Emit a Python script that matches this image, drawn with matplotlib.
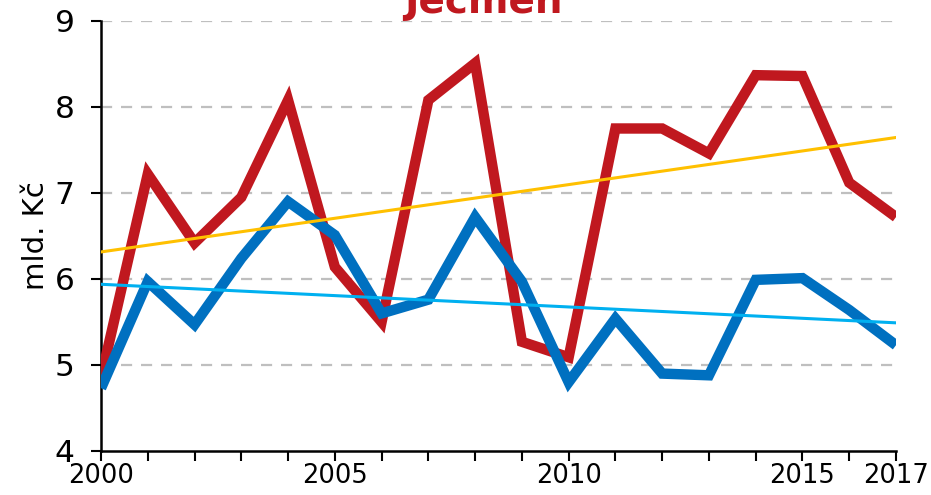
import matplotlib
matplotlib.use("Agg")
import matplotlib.pyplot as plt
import numpy as np

years = np.arange(2000, 2018)
red_vals = [4.85, 7.22, 6.42, 6.95, 8.08, 6.14, 5.50, 8.08, 8.51, 5.27,
            5.09, 7.75, 7.75, 7.46, 8.37, 8.36, 7.12, 6.72]
blue_vals = [4.73, 5.97, 5.47, 6.24, 6.90, 6.51, 5.60, 5.76, 6.72, 5.97,
             4.80, 5.54, 4.90, 4.88, 5.99, 6.01, 5.64, 5.23]
xtick_labels = [2000, 2005, 2010, 2015, 2017]
title = "Ječmen"
ylabel = "mld. Kč"

fig = plt.figure(figsize=(9.31, 4.95), dpi=100)
ax = fig.add_axes([0.1085, 0.0889, 0.8539, 0.8687])

# grid
for v in [5, 6, 7, 8, 9]:
    ax.axhline(v, color="#BFBFBF", lw=1.6, dashes=(5, 4), zorder=0)

# trend lines (linear fit like excel)
rf = np.polyfit(years, red_vals, 1)
bf = np.polyfit(years, blue_vals, 1)

ax.plot(years, red_vals, color="#C0181F", lw=7.5, solid_joinstyle="miter", solid_capstyle="butt", zorder=3)
ax.plot(years, blue_vals, color="#0070C0", lw=7.5, solid_joinstyle="miter", solid_capstyle="butt", zorder=3)
ax.plot(years, np.polyval(rf, years), color="#FFC000", lw=2.2, zorder=4)
ax.plot(years, np.polyval(bf, years), color="#00B0F0", lw=2.2, zorder=4)

ax.set_xlim(2000, 2017)
ax.set_ylim(4, 9)
ax.set_yticks([4, 5, 6, 7, 8, 9])
ax.set_xticks(years, minor=True)
ax.set_xticks(xtick_labels)
ax.tick_params(axis="x", which="both", length=7, width=1.5, labelsize=18.5, pad=2)
ax.tick_params(axis="y", length=7, width=1.5, labelsize=22.5, pad=12)

for s in ["top", "right"]:
    ax.spines[s].set_visible(False)
for s in ["left", "bottom"]:
    ax.spines[s].set_linewidth(1.8)

ax.set_ylabel(ylabel, fontsize=21, labelpad=3)
fig.text(0.5188, 0.9737, title, color="#C0181F", fontsize=28, fontweight="bold",
         ha="center", va="baseline")

fig.savefig("out.png", dpi=100)
